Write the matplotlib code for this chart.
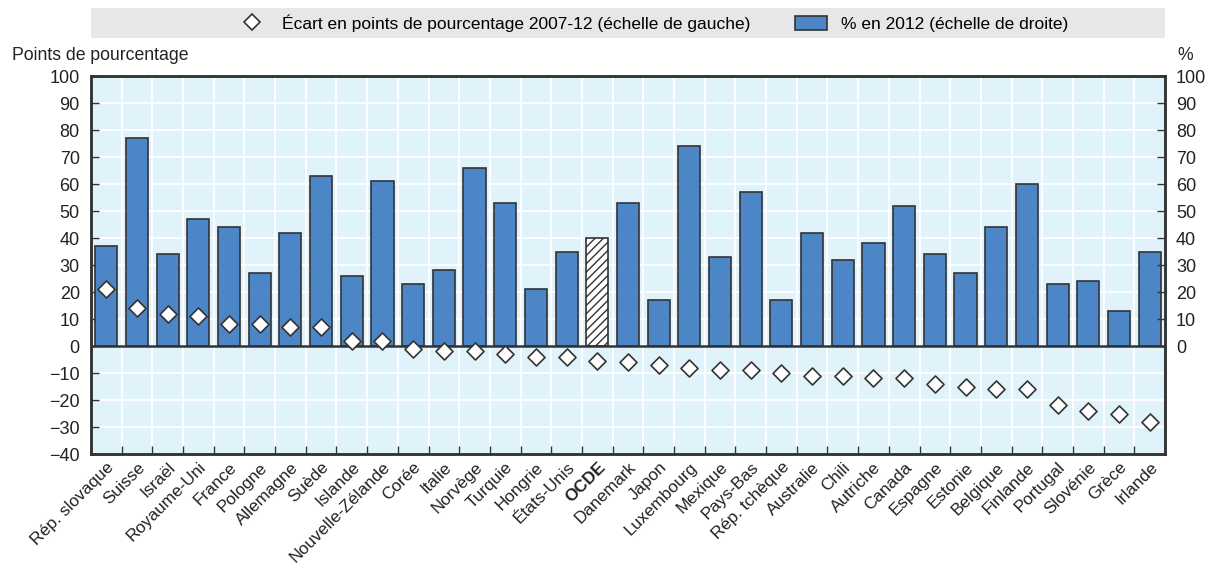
import matplotlib.pyplot as plt
from matplotlib.patches import Rectangle, Patch
from matplotlib.lines import Line2D
import numpy as np

plt.rcParams['font.family'] = ['Liberation Sans Narrow', 'Liberation Sans', 'DejaVu Sans']
plt.rcParams['hatch.linewidth'] = 1.0

countries = ['Rép. slovaque', 'Suisse', 'Israël', 'Royaume-Uni', 'France', 'Pologne',
             'Allemagne', 'Suède', 'Islande', 'Nouvelle-Zélande', 'Corée', 'Italie',
             'Norvège', 'Turquie', 'Hongrie', 'États-Unis', 'OCDE', 'Danemark', 'Japon',
             'Luxembourg', 'Mexique', 'Pays-Bas', 'Rép. tchèque', 'Australie', 'Chili',
             'Autriche', 'Canada', 'Espagne', 'Estonie', 'Belgique', 'Finlande',
             'Portugal', 'Slovénie', 'Grèce', 'Irlande']
pct_2012 = [37, 77, 34, 47, 44, 27, 42, 63, 26, 61, 23, 28, 66, 53, 21, 35, 40, 53, 17,
            74, 33, 57, 17, 42, 32, 38, 52, 34, 27, 44, 60, 23, 24, 13, 35]
gap_0712 = [21, 14, 12, 11, 8, 8, 7, 7, 2, 2, -1, -2, -2, -3, -4, -4, -5.5, -6, -7,
            -8, -9, -9, -10, -11, -11, -12, -12, -14, -15, -16, -16, -22, -24, -25, -28]
highlight = 'OCDE'

bar_col = '#4C86C6'
bg_col = '#E0F2FA'
dark = '#333333'

fig = plt.figure(figsize=(12.08, 5.68), dpi=100)
ax = fig.add_axes([0.0753, 0.2007, 0.8891, 0.6653])
ax.set_facecolor(bg_col)

x = np.arange(len(countries))
colors = ['white' if c == highlight else bar_col for c in countries]
bars = ax.bar(x, pct_2012, width=0.72, color=colors, edgecolor=dark, linewidth=1.2, zorder=3)
for b, c in zip(bars, countries):
    if c == highlight:
        b.set_hatch('////')

ax.scatter(x, gap_0712, marker='D', s=75, facecolor='white', edgecolor=dark, linewidth=1.2, zorder=5)

ax.set_xlim(-0.5, len(countries) - 0.5)
ax.set_ylim(-40, 100)
ax.set_yticks(range(-40, 101, 10))
ax.axhline(0, color=dark, linewidth=1.8, zorder=4)

# grid: horizontal at each 10, vertical between categories
for yv in range(-30, 100, 10):
    ax.axhline(yv, color='white', linewidth=1.3, zorder=1)
for xv in np.arange(0.5, len(countries) - 0.5, 1):
    ax.axvline(xv, color='white', linewidth=1.3, zorder=1)

ax.set_xticks(np.arange(0.5, len(countries) - 0.5, 1))
ax.set_xticklabels([])
ax.tick_params(axis='x', direction='in', length=6, color=dark, width=1)
ax.set_xticks(x, minor=True)
ax.set_xticklabels(countries, minor=True, rotation=45, ha='right', va='top',
                   rotation_mode='anchor', fontsize=12.3, color='#222222')
ax.tick_params(axis='x', which='minor', length=0, pad=4)
for lbl in ax.get_xticklabels(minor=True):
    if lbl.get_text() == highlight:
        lbl.set_fontweight('bold')

ax.tick_params(axis='y', direction='in', length=6, color=dark, width=1,
               labelsize=13, labelcolor='#222222', pad=8)

ax2 = ax.twinx()
ax2.set_ylim(-40, 100)
ax2.set_yticks(range(0, 101, 10))
ax2.tick_params(axis='y', direction='in', length=6, color=dark, width=1,
                labelsize=13, labelcolor='#222222', pad=8)

for a in (ax, ax2):
    for s in a.spines.values():
        s.set_color(dark)
        s.set_linewidth(1.8)

fig.text(0.010, 0.903, 'Points de pourcentage', fontsize=12.7, color='#222222', va='center')
fig.text(0.975, 0.903, '%', fontsize=12.7, color='#222222', va='center')

# legend band
fig.patches.append(Rectangle((0.0753, 0.933), 0.8891, 0.053, transform=fig.transFigure,
                             facecolor='#E6E7E8', edgecolor='none', zorder=0))
handles = [Line2D([], [], marker='D', linestyle='none', markersize=8.5, markerfacecolor='white',
                  markeredgecolor=dark, markeredgewidth=1.2),
           Patch(facecolor=bar_col, edgecolor=dark, linewidth=1.2)]
fig.legend(handles, ['Écart en points de pourcentage 2007-12 (échelle de gauche)',
                     '% en 2012 (échelle de droite)'],
           loc='center', bbox_to_anchor=(0.540, 0.9595), ncol=2, frameon=False,
           fontsize=12.5, handlelength=1.8, handleheight=0.9, columnspacing=2.6,
           handletextpad=0.8)

fig.savefig('out.png', dpi=100)
